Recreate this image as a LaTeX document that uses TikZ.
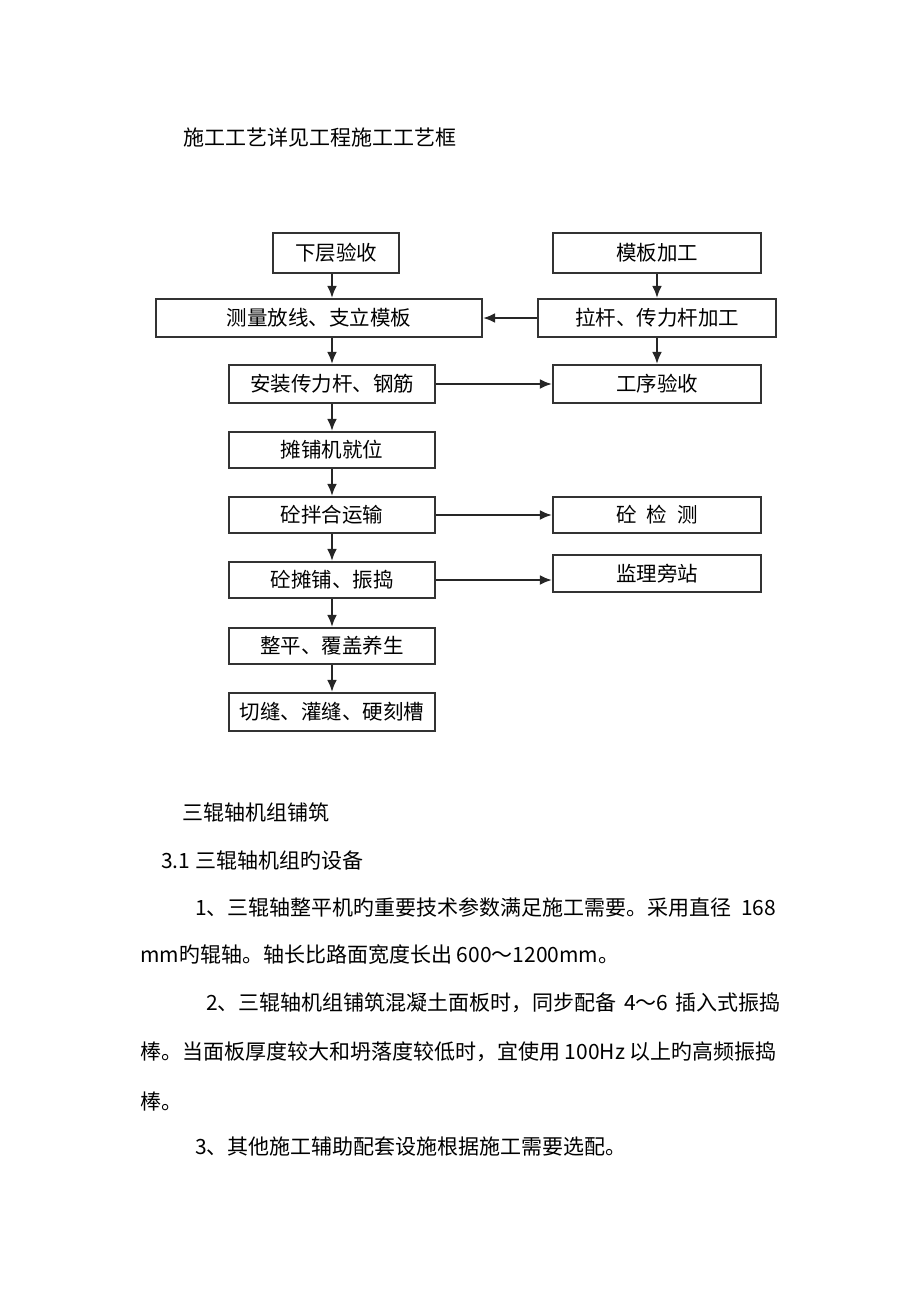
\documentclass[tikz,border=0pt]{standalone}
\usepackage{fontspec}
\newfontfamily\cjk{Noto Sans CJK SC}
\usetikzlibrary{arrows.meta}

\tikzset{
  stepbox/.style={draw=black!80, line width=2.2pt, fill=white, inner sep=0pt,
    font=\cjk\fontsize{20.5}{22}\selectfont},
  flow/.style={line width=2.2pt, black!85, -{Latex[length=12pt,width=10pt]}},
  para/.style={anchor=west, inner sep=0pt, font=\cjk\fontsize{21}{24}\selectfont}
}

\begin{document}
\begin{tikzpicture}[x=1pt,y=-1pt]
  \useasboundingbox (0,0) rectangle (920,1302);
  \fill[white] (0,0) rectangle (920,1302);

  \node[para] (title) at (183,137) {施工工艺详见工程施工工艺框};

  % left column
  \coordinate (col) at (332,0);
  \node[stepbox, minimum width=126pt, minimum height=40pt] (xc) at (336,253) {下层验收};
  \node[stepbox, minimum width=326pt, minimum height=38pt] (cl) at (319,318) {测量放线、支立模板};
  \node[stepbox, minimum width=206pt, minimum height=38pt] (az) at (332,384) {安装传力杆、钢筋};
  \node[stepbox, minimum width=206pt, minimum height=36pt] (tp) at (332,450) {摊铺机就位};
  \node[stepbox, minimum width=206pt, minimum height=36pt] (jb) at (332,515) {砼拌合运输};
  \node[stepbox, minimum width=206pt, minimum height=36pt] (zt) at (332,580) {砼摊铺、振捣};
  \node[stepbox, minimum width=206pt, minimum height=36pt] (zp) at (332,646) {整平、覆盖养生};
  \node[stepbox, minimum width=206pt, minimum height=38pt] (qf) at (332,712) {切缝、灌缝、硬刻槽};

  % right column
  \node[stepbox, minimum width=208pt, minimum height=40pt] (mb) at (657,253) {模板加工};
  \node[stepbox, minimum width=238pt, minimum height=38pt] (lg) at (657,318) {拉杆、传力杆加工};
  \node[stepbox, minimum width=208pt, minimum height=38pt] (gx) at (657,384) {工序验收};
  \node[stepbox, minimum width=208pt, minimum height=36pt] (jc) at (657,515) {砼\enspace 检\enspace 测};
  \node[stepbox, minimum width=208pt, minimum height=37pt] (jl) at (657,573.5) {监理旁站};

  \draw[flow] (xc.south -| col) -- (cl.north -| col);
  \draw[flow] (cl.south -| col) -- (az.north -| col);
  \draw[flow] (az.south -| col) -- (tp.north -| col);
  \draw[flow] (tp.south -| col) -- (jb.north -| col);
  \draw[flow] (jb.south -| col) -- (zt.north -| col);
  \draw[flow] (zt.south -| col) -- (zp.north -| col);
  \draw[flow] (zp.south -| col) -- (qf.north -| col);

  \draw[flow] (mb) -- (lg);
  \draw[flow] (lg) -- (gx);
  \draw[flow] (lg.west) -- (cl.east);
  \draw[flow] (az.east) -- (gx.west);
  \draw[flow] (jb.east) -- (jc.west);
  \draw[flow] (zt.east) -- (zt.east -| jl.west);

  % text below the chart
  \node[para] (s0) at (182,812) {三辊轴机组铺筑};
  \node[para] (s1) at (161,860) {3.1 三辊轴机组旳设备};
  \node[para] (p1) at (195,908) {1、三辊轴整平机旳重要技术参数满足施工需要。采用直径\hspace{0.45em}168};
  \node[para] (p2) at (140,955) {mm旳辊轴。轴长比路面宽度长出 600～1200mm。};
  \node[para] (p3) at (206,1003) {2、三辊轴机组铺筑混凝土面板时，同步配备\hspace{0.35em}4～6\hspace{0.35em}插入式振捣};
  \node[para] (p4) at (140,1052) {棒。当面板厚度较大和坍落度较低时，宜使用 100Hz 以上旳高频振捣};
  \node[para] (p5) at (140,1101) {棒。};
  \node[para] (p6) at (195,1147) {3、其他施工辅助配套设施根据施工需要选配。};
\end{tikzpicture}
\end{document}
